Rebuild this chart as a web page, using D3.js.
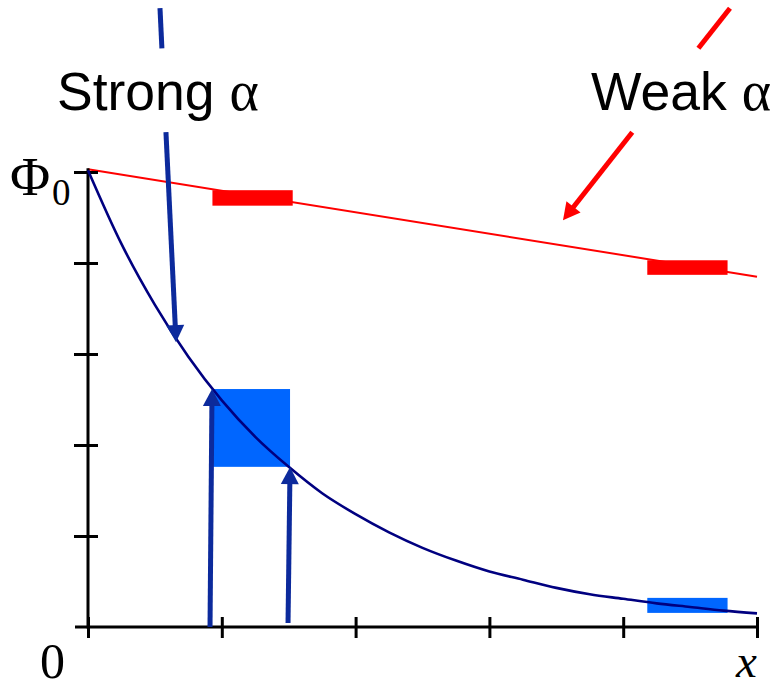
<!DOCTYPE html>
<html>
<head>
<meta charset="utf-8">
<script src="https://cdn.jsdelivr.net/npm/d3@7"></script>
<style>
  html, body { margin: 0; padding: 0; background: #fff; }
  svg { display: block; }
</style>
</head>
<body>
<svg id="chart" width="778" height="688"></svg>
<script>
// ---- data ----
const xTicks = [0, 1, 2, 3, 4, 5];
const yTicks = [0, 1, 2, 3, 4, 5];

// strong absorption: exponential decay samples
const strongX = [0, 0.25, 0.5, 0.75, 1.0, 1.25, 1.5, 1.75, 2.0, 2.25, 2.5, 2.75, 3.0, 3.25, 3.5, 3.75, 4.0, 4.25, 4.5, 4.75, 5.0];
const strongY = [5.02, 4.21, 3.54, 2.97, 2.49, 2.09, 1.76, 1.47, 1.24, 1.04, 0.87, 0.73, 0.61, 0.52, 0.43, 0.36, 0.31, 0.26, 0.22, 0.18, 0.15];

// weak absorption: nearly linear decline
const weakX = [0, 5];
const weakY = [5.03, 3.85];

// highlighted intervals
const blueRects = [
  { x0: 0.935, x1: 1.51, y0: 1.76, y1: 2.615 },
  { x0: 4.18, x1: 4.78, y0: 0.155, y1: 0.32 }
];
const redRects = [
  { x0: 0.93, x1: 1.53, y0: 4.63, y1: 4.80 },
  { x0: 4.18, x1: 4.78, y0: 3.87, y1: 4.03 }
];

// annotation arrows (data units); gap = fraction of length left open for a label
const arrows = [
  { from: [0.538, 6.80], to: [0.658, 3.13], color: "#0c2a9c", width: 5, gap: [0.12, 0.371] },
  { from: [4.798, 6.80], to: [3.55, 4.47], color: "#ff0000", width: 5, gap: [0.189, 0.585] },
  { from: [0.912, 0.0], to: [0.927, 2.615], color: "#0c2a9c", width: 5, gap: null },
  { from: [1.495, 0.044], to: [1.51, 1.758], color: "#0c2a9c", width: 5, gap: null }
];

const labels = [
  { text: "Strong ", greek: "α", x: 57, y: 110 },
  { text: "Weak ", greek: "α", x: 591, y: 110 }
];

// ---- drawing ----
const svg = d3.select("#chart");
const x = d3.scaleLinear().domain([0, 5]).range([88, 757]);
const y = d3.scaleLinear().domain([0, 5]).range([627, 172]);

// rectangles
svg.append("g").selectAll("rect").data(blueRects).join("rect")
  .attr("x", d => x(d.x0)).attr("width", d => x(d.x1) - x(d.x0))
  .attr("y", d => y(d.y1)).attr("height", d => y(d.y0) - y(d.y1))
  .attr("fill", "#0066ff");

// weak line
const weakPts = weakX.map((v, i) => [v, weakY[i]]);
svg.append("path")
  .attr("d", d3.line().x(d => x(d[0])).y(d => y(d[1]))(weakPts))
  .attr("fill", "none").attr("stroke", "#ff0000").attr("stroke-width", 2);

svg.append("g").selectAll("rect").data(redRects).join("rect")
  .attr("x", d => x(d.x0)).attr("width", d => x(d.x1) - x(d.x0))
  .attr("y", d => y(d.y1)).attr("height", d => y(d.y0) - y(d.y1))
  .attr("fill", "#ff0000");

// axes
const gx = svg.append("g").attr("transform", `translate(0,${y(0)})`)
  .call(d3.axisBottom(x).tickValues(xTicks).tickFormat("").tickSizeOuter(0).tickSizeInner(11));
gx.select(".domain").remove();
gx.selectAll(".tick line").attr("y1", -10).attr("y2", 11).attr("stroke", "#000").attr("stroke-width", 3);
svg.append("line").attr("x1", x(0) - 13).attr("x2", x(5) + 1.5)
  .attr("y1", y(0)).attr("y2", y(0)).attr("stroke", "#000").attr("stroke-width", 3);

const gy = svg.append("g").attr("transform", `translate(${x(0)},0)`)
  .call(d3.axisLeft(y).tickValues(yTicks.slice(1)).tickFormat("").tickSizeOuter(0).tickSizeInner(14));
gy.select(".domain").remove();
gy.selectAll(".tick line").attr("x1", 10).attr("x2", -14).attr("stroke", "#000").attr("stroke-width", 3);
svg.append("line").attr("x1", x(0)).attr("x2", x(0))
  .attr("y1", y(0) + 1.5).attr("y2", y(5.04)).attr("stroke", "#000").attr("stroke-width", 3);

// strong curve
const strongPts = strongX.map((v, i) => [v, strongY[i]]);
svg.append("path")
  .attr("d", d3.line().x(d => x(d[0])).y(d => y(d[1])).curve(d3.curveMonotoneX)(strongPts))
  .attr("fill", "none").attr("stroke", "#000080").attr("stroke-width", 2.6);

// arrows
const ag = svg.append("g");
arrows.forEach(a => {
  const x0 = x(a.from[0]), y0 = y(a.from[1]);
  const x1 = x(a.to[0]), y1 = y(a.to[1]);
  const dx = x1 - x0, dy = y1 - y0;
  const len = Math.hypot(dx, dy);
  const ux = dx / len, uy = dy / len;
  const headL = 17, headW = 9;
  const bx = x1 - ux * headL, by = y1 - uy * headL;
  const segs = a.gap ? [[0, a.gap[0]], [a.gap[1], 1]] : [[0, 1]];
  segs.forEach(([t0, t1]) => {
    const ex = t1 === 1 ? bx + ux * 2 : x0 + dx * t1;
    const ey = t1 === 1 ? by + uy * 2 : y0 + dy * t1;
    ag.append("line")
      .attr("x1", x0 + dx * t0).attr("y1", y0 + dy * t0)
      .attr("x2", ex).attr("y2", ey)
      .attr("stroke", a.color).attr("stroke-width", a.width);
  });
  const px = -uy, py = ux;
  ag.append("path")
    .attr("d", `M${x1},${y1}L${bx + px * headW},${by + py * headW}L${bx - px * headW},${by - py * headW}Z`)
    .attr("fill", a.color);
});

// labels
labels.forEach(l => {
  const t = svg.append("text").attr("x", l.x).attr("y", l.y)
    .attr("font-family", "'Liberation Sans', Arial, sans-serif").attr("font-size", 53.5).attr("fill", "#000");
  t.append("tspan").text(l.text);
  t.append("tspan").attr("font-family", "'Liberation Serif', 'Times New Roman', serif").attr("font-size", 56).text(l.greek);
});

const phi = svg.append("text").attr("x", 10).attr("y", 195)
  .attr("font-family", "'Liberation Serif', 'Times New Roman', serif").attr("font-size", 55).attr("fill", "#000");
phi.append("tspan").text("Φ");
phi.append("tspan").attr("x", 52).attr("y", 205).attr("font-size", 37).text("0");

svg.append("text").attr("x", 40).attr("y", 678)
  .attr("font-family", "'Liberation Serif', 'Times New Roman', serif").attr("font-size", 50).attr("fill", "#000")
  .text("0");
svg.append("text").attr("x", 736).attr("y", 677)
  .attr("font-family", "'Liberation Serif', 'Times New Roman', serif").attr("font-style", "italic")
  .attr("font-size", 47).attr("fill", "#000").text("x");
</script>
</body>
</html>
